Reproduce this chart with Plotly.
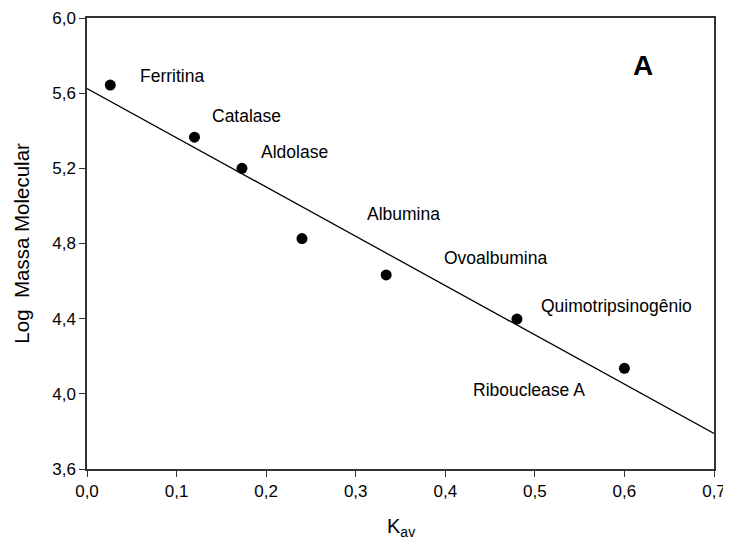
import numpy as np
import plotly.graph_objects as go

# Kav vs log molecular mass of standard proteins
proteins = ['Ferritina', 'Catalase', 'Aldolase', 'Albumina', 'Ovoalbumina',
            'Quimotripsinogênio', 'Ribouclease A']
kav = [0.026, 0.120, 0.173, 0.240, 0.334, 0.480, 0.600]
log_mm = [5.643, 5.366, 5.200, 4.826, 4.633, 4.398, 4.136]

# label anchor positions (data coords, left edge of text)
label_x = [0.057, 0.137, 0.192, 0.310, 0.396, 0.505, 0.429]
label_y = [5.692, 5.480, 5.285, 4.957, 4.725, 4.465, 4.019]

x_range = [0.0, 0.7]
y_range = [3.6, 6.0]

FONT = 'Liberation Sans, Arial, sans-serif'

slope, intercept = np.polyfit(kav, log_mm, 1)
fit_x = np.array(x_range)
fit_y = slope * fit_x + intercept

fig = go.Figure()
fig.add_trace(go.Scatter(x=fit_x, y=fit_y, mode='lines',
                         line=dict(color='black', width=1.3),
                         hoverinfo='skip'))
fig.add_trace(go.Scatter(x=kav, y=log_mm, mode='markers',
                         marker=dict(size=11, color='black')))

for name, lx, ly in zip(proteins, label_x, label_y):
    fig.add_annotation(x=lx, y=ly, text=name, showarrow=False,
                       xanchor='left', yanchor='middle',
                       font=dict(size=17.5, color='black', family=FONT))

fig.add_annotation(x=0.621, y=5.745, text='<b>A</b>', showarrow=False,
                   xanchor='center', yanchor='middle',
                   font=dict(size=28, color='black', family=FONT))

# axis titles as paper-positioned annotations
fig.add_annotation(x=0.5, y=-0.13, xref='paper', yref='paper',
                   text='K<sub>av</sub>', showarrow=False,
                   xanchor='center', yanchor='middle',
                   font=dict(size=20, color='black', family=FONT))
fig.add_annotation(x=-0.105, y=0.5, xref='paper', yref='paper',
                   text='Log  Massa Molecular', showarrow=False, textangle=-90,
                   xanchor='center', yanchor='middle',
                   font=dict(size=20.5, color='black', family=FONT))

axis_common = dict(showgrid=False, zeroline=False, showline=True, automargin=False,
                   linecolor='#333333', linewidth=1.5, mirror=True,
                   ticks='outside', ticklen=6, tickwidth=1.3, tickcolor='#333333',
                   tickfont=dict(size=17, color='black', family=FONT))

# page body adds an 8px offset, margins compensate for it
fig.update_layout(
    width=731, height=551,
    margin=dict(l=79, r=25, t=10, b=90),
    plot_bgcolor='white', paper_bgcolor='white',
    showlegend=False,
    separators=', ',
    xaxis=dict(range=x_range, dtick=0.1, tickformat='.1f', **axis_common),
    yaxis=dict(range=y_range, dtick=0.4, tickformat='.1f', **axis_common),
)

fig.write_html("out.html")
